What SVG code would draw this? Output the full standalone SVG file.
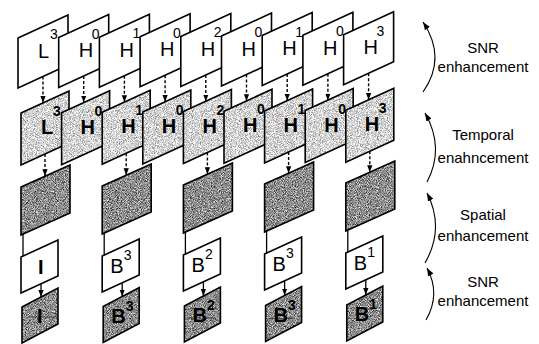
<svg xmlns="http://www.w3.org/2000/svg" xmlns:xlink="http://www.w3.org/1999/xlink" width="539" height="344" viewBox="0 0 539 344">
<defs>
<style>
.w{fill:#fff;stroke:#000;stroke-width:1.6}
.lf{fill:#ccc;filter:url(#lt)}
.df{fill:#888;filter:url(#dk)}
.ol{fill:none;stroke:#000;stroke-width:1.6}
.m{font-family:"Liberation Sans",Arial,sans-serif;font-size:20px;fill:#000}
.b{font-weight:bold}
.s{font-family:"Liberation Sans",Arial,sans-serif;font-size:14px;fill:#000}
.lbl{font-family:"Liberation Sans",Arial,sans-serif;font-size:15px;text-anchor:middle;fill:#000}
.dash{fill:none;stroke:#000;stroke-width:1.4;stroke-dasharray:3 2;marker-end:url(#ah)}
.sol{fill:none;stroke:#000;stroke-width:1.3}
.arr{fill:none;stroke:#000;stroke-width:1.3;marker-end:url(#ah)}
.cur{fill:none;stroke:#000;stroke-width:1.1;marker-end:url(#ah2)}
.tx{stroke:#222;stroke-width:1;opacity:0.6}
</style>
<filter id="lt" x="0" y="0" width="1" height="1" color-interpolation-filters="sRGB">
<feTurbulence type="fractalNoise" baseFrequency="1.1" numOctaves="2" seed="4" result="t"/>
<feColorMatrix in="t" type="matrix" values="1.1 0 0 0 0.28 1.1 0 0 0 0.28 1.1 0 0 0 0.28 0 0 0 0 1" result="g"/>
<feComposite in="g" in2="SourceGraphic" operator="in"/>
</filter>
<filter id="dk" x="0" y="0" width="1" height="1" color-interpolation-filters="sRGB">
<feTurbulence type="fractalNoise" baseFrequency="1.1" numOctaves="2" seed="9" result="t"/>
<feColorMatrix in="t" type="matrix" values="1.3 0 0 0 -0.1 1.3 0 0 0 -0.1 1.3 0 0 0 -0.1 0 0 0 0 1" result="g"/>
<feComposite in="g" in2="SourceGraphic" operator="in"/>
</filter>
<marker id="ah" viewBox="0 0 8 8" refX="8" refY="4" markerWidth="7" markerHeight="7" markerUnits="userSpaceOnUse" orient="auto"><path d="M0,1 L8,4 L0,7 z" fill="#000"/></marker>
<marker id="ah2" viewBox="0 0 8 8" refX="8" refY="4" markerWidth="8" markerHeight="8" markerUnits="userSpaceOnUse" orient="auto"><path d="M0,1 L8,4 L0,7 z" fill="#000"/></marker>
<polygon id="pa" points="0,0 50,-23 50,27 0,50"/>
<polygon id="pb" points="0,0 48,-22 48,30 0,52"/>
<polygon id="pc" points="0,0 49,-22 49,26 0,48"/>
<polygon id="pd" points="0,0 37,-17 37,19 0,36"/>
<polygon id="pe" points="0,0 36,-19 36,17 0,36"/>
</defs>
<rect width="539" height="344" fill="#fff"/>

<!-- Row A -->
<g id="a1" transform="translate(18,38)"><use href="#pa" class="w"/><text class="m" x="20" y="19.5">L</text><text class="s" x="32" y="1">3</text></g>
<g id="a2" transform="translate(58.7,37.6)"><use href="#pa" class="w"/><text class="m" x="20" y="19.5">H</text><text class="s" x="33" y="1">0</text></g>
<g id="a3" transform="translate(99.4,37.2)"><use href="#pa" class="w"/><text class="m" x="20" y="19.5">H</text><text class="s" x="33" y="1">1</text></g>
<g id="a4" transform="translate(140.1,36.8)"><use href="#pa" class="w"/><text class="m" x="20" y="19.5">H</text><text class="s" x="33" y="1">0</text></g>
<g id="a5" transform="translate(180.8,36.4)"><use href="#pa" class="w"/><text class="m" x="20" y="19.5">H</text><text class="s" x="33" y="1">2</text></g>
<g id="a6" transform="translate(221.5,36)"><use href="#pa" class="w"/><text class="m" x="20" y="19.5">H</text><text class="s" x="33" y="1">0</text></g>
<g id="a7" transform="translate(262.2,35.6)"><use href="#pa" class="w"/><text class="m" x="20" y="19.5">H</text><text class="s" x="33" y="1">1</text></g>
<g id="a8" transform="translate(302.9,35.2)"><use href="#pa" class="w"/><text class="m" x="20" y="19.5">H</text><text class="s" x="33" y="1">0</text></g>
<g id="a9" transform="translate(343.6,34.8)"><use href="#pa" class="w"/><text class="m" x="20" y="19.5">H</text><text class="s" x="33" y="1">3</text></g>

<!-- Row B -->
<g id="b1" transform="translate(21,113)"><use href="#pb" class="lf"/><use href="#pb" class="ol"/><text class="m b" x="20" y="21">L</text><text class="s b" x="32" y="3">3</text></g>
<g id="b2" transform="translate(61.6,112.65)"><use href="#pb" class="lf"/><use href="#pb" class="ol"/><text class="m b" x="19" y="21">H</text><text class="s b" x="33" y="3">0</text></g>
<g id="b3" transform="translate(102.2,112.3)"><use href="#pb" class="lf"/><use href="#pb" class="ol"/><text class="m b" x="19" y="21">H</text><text class="s b" x="33" y="3">1</text></g>
<g id="b4" transform="translate(142.8,111.95)"><use href="#pb" class="lf"/><use href="#pb" class="ol"/><text class="m b" x="19" y="21">H</text><text class="s b" x="33" y="3">0</text></g>
<g id="b5" transform="translate(183.4,111.6)"><use href="#pb" class="lf"/><use href="#pb" class="ol"/><text class="m b" x="19" y="21">H</text><text class="s b" x="33" y="3">2</text></g>
<g id="b6" transform="translate(224,111.25)"><use href="#pb" class="lf"/><use href="#pb" class="ol"/><text class="m b" x="19" y="21">H</text><text class="s b" x="33" y="3">0</text></g>
<g id="b7" transform="translate(264.6,110.9)"><use href="#pb" class="lf"/><use href="#pb" class="ol"/><text class="m b" x="19" y="21">H</text><text class="s b" x="33" y="3">1</text></g>
<g id="b8" transform="translate(305.2,110.55)"><use href="#pb" class="lf"/><use href="#pb" class="ol"/><text class="m b" x="19" y="21">H</text><text class="s b" x="33" y="3">0</text></g>
<g id="b9" transform="translate(345.8,110.2)"><use href="#pb" class="lf"/><use href="#pb" class="ol"/><text class="m b" x="19" y="21">H</text><text class="s b" x="33" y="3">3</text></g>

<!-- Row C -->
<g id="c1" transform="translate(21,187)"><use href="#pc" class="df"/><use href="#pc" class="ol"/></g>
<g id="c2" transform="translate(102.2,186)"><use href="#pc" class="df"/><use href="#pc" class="ol"/></g>
<g id="c3" transform="translate(183.4,185)"><use href="#pc" class="df"/><use href="#pc" class="ol"/></g>
<g id="c4" transform="translate(264.6,184)"><use href="#pc" class="df"/><use href="#pc" class="ol"/></g>
<g id="c5" transform="translate(345.8,183)"><use href="#pc" class="df"/><use href="#pc" class="ol"/></g>

<!-- Row D -->
<g id="d1" transform="translate(21,257)"><use href="#pd" class="w"/><text class="m b" x="17" y="17">I</text></g>
<g id="d2" transform="translate(102.2,256)"><use href="#pd" class="w"/><text class="m" x="8" y="17">B</text><text class="s" x="21.5" y="4">3</text></g>
<g id="d3" transform="translate(183.4,255)"><use href="#pd" class="w"/><text class="m" x="8" y="17">B</text><text class="s" x="21.5" y="4">2</text></g>
<g id="d4" transform="translate(264.6,254)"><use href="#pd" class="w"/><text class="m" x="8" y="17">B</text><text class="s" x="21.5" y="4">3</text></g>
<g id="d5" transform="translate(345.8,253)"><use href="#pd" class="w"/><text class="m" x="8" y="17">B</text><text class="s" x="21.5" y="4">1</text></g>

<!-- Row E -->
<g id="e1" transform="translate(22,307)"><use href="#pe" class="df"/><use href="#pe" class="ol"/><line class="tx" x1="5" y1="10" x2="34" y2="10"/><text class="m b" x="15" y="16">I</text></g>
<g id="e2" transform="translate(103.2,306.5)"><use href="#pe" class="df"/><use href="#pe" class="ol"/><text class="m b" x="8" y="16">B</text><text class="s b" x="22.5" y="4">3</text></g>
<g id="e3" transform="translate(184.4,306)"><use href="#pe" class="df"/><use href="#pe" class="ol"/><line class="tx" x1="3" y1="12" x2="30" y2="12"/><text class="m b" x="8" y="16">B</text><text class="s b" x="22.5" y="4">2</text></g>
<g id="e4" transform="translate(265.6,305.5)"><use href="#pe" class="df"/><use href="#pe" class="ol"/><line class="tx" x1="3" y1="13" x2="28" y2="13"/><text class="m b" x="8" y="16">B</text><text class="s b" x="22.5" y="4">3</text></g>
<g id="e5" transform="translate(346.8,305)"><use href="#pe" class="df"/><use href="#pe" class="ol"/><text class="m b" x="8" y="16">B</text><text class="s b" x="22.5" y="4">1</text></g>

<!-- Connectors -->
<g id="connectors">
<line class="dash" x1="43" y1="76.5" x2="43" y2="102.9"/>
<line class="dash" x1="83.7" y1="76.1" x2="83.7" y2="102.6"/>
<line class="dash" x1="124.4" y1="75.7" x2="124.4" y2="102.2"/>
<line class="dash" x1="165.1" y1="75.3" x2="165.1" y2="101.9"/>
<line class="dash" x1="205.8" y1="74.9" x2="205.8" y2="101.5"/>
<line class="dash" x1="246.5" y1="74.5" x2="246.5" y2="101.2"/>
<line class="dash" x1="287.2" y1="74.1" x2="287.2" y2="100.8"/>
<line class="dash" x1="327.9" y1="73.7" x2="327.9" y2="100.5"/>
<line class="dash" x1="368.6" y1="73.3" x2="368.6" y2="100.1"/>

<line class="dash" x1="45" y1="154" x2="45" y2="176.2"/>
<line class="dash" x1="126.2" y1="153.3" x2="126.2" y2="175.2"/>
<line class="dash" x1="207.4" y1="152.6" x2="207.4" y2="174.2"/>
<line class="dash" x1="288.6" y1="151.9" x2="288.6" y2="173.2"/>
<line class="dash" x1="369.8" y1="151.2" x2="369.8" y2="172.2"/>

<line class="sol" x1="23" y1="234" x2="23" y2="256"/>
<line class="sol" x1="104.2" y1="233" x2="104.2" y2="255"/>
<line class="sol" x1="185.4" y1="232" x2="185.4" y2="254"/>
<line class="sol" x1="266.6" y1="231" x2="266.6" y2="253"/>
<line class="sol" x1="347.8" y1="230" x2="347.8" y2="252"/>

<line class="arr" x1="41" y1="283.8" x2="41" y2="297"/>
<line class="arr" x1="122.2" y1="282.8" x2="122.2" y2="296.5"/>
<line class="arr" x1="203.4" y1="281.8" x2="203.4" y2="296"/>
<line class="arr" x1="284.6" y1="280.8" x2="284.6" y2="295.5"/>
<line class="arr" x1="365.8" y1="279.8" x2="365.8" y2="295"/>

<path class="cur" d="M423,92 Q447,58 423,22"/>
<path class="cur" d="M427,182 Q445,148 425,113"/>
<path class="cur" d="M425,263 Q445,228 427,193"/>
<path class="cur" d="M426,320 Q441,294 427,268"/>
</g>

<g id="labels">
<text class="lbl" x="483" y="53">SNR</text>
<text class="lbl" x="483" y="72">enhancement</text>
<text class="lbl" x="483" y="140">Temporal</text>
<text class="lbl" x="483" y="163">enahncement</text>
<text class="lbl" x="483" y="220">Spatial</text>
<text class="lbl" x="483" y="241">enhancement</text>
<text class="lbl" x="483" y="287">SNR</text>
<text class="lbl" x="483" y="306">enhancement</text>
</g>
</svg>
